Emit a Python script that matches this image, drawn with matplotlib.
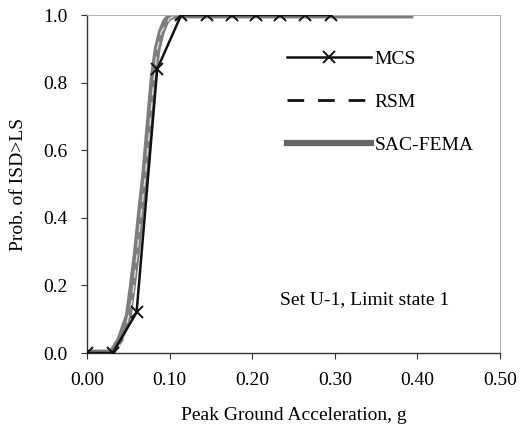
import matplotlib
matplotlib.use("Agg")
import matplotlib.pyplot as plt
from matplotlib.lines import Line2D

# data
mcs_x = [0.0, 0.031, 0.060, 0.085, 0.114, 0.145, 0.176, 0.205, 0.234, 0.264, 0.295]
mcs_y = [0.0, 0.0, 0.12, 0.84, 1.0, 1.0, 1.0, 1.0, 1.0, 1.0, 1.0]

rsm_x = [0.0, 0.035, 0.045, 0.055, 0.060, 0.065, 0.070, 0.075, 0.080, 0.085, 0.090, 0.100, 0.110, 0.300]
rsm_y = [0.0, 0.0, 0.05, 0.16, 0.28, 0.40, 0.51, 0.64, 0.78, 0.90, 0.95, 0.99, 1.0, 1.0]

sac_x = [0.0, 0.030, 0.040, 0.050, 0.055, 0.060, 0.065, 0.070, 0.075, 0.080, 0.085, 0.090, 0.095, 0.100, 0.110, 0.200, 0.395]
sac_y = [0.0, 0.0, 0.04, 0.11, 0.20, 0.30, 0.42, 0.53, 0.67, 0.81, 0.90, 0.95, 0.98, 0.995, 1.0, 1.0, 1.0]

xticks = [0.0, 0.1, 0.2, 0.3, 0.4, 0.5]
yticks = [0.0, 0.2, 0.4, 0.6, 0.8, 1.0]

plt.rcParams['font.family'] = ['Liberation Serif', 'DejaVu Serif']
fs = 14

fig = plt.figure(figsize=(5.29, 4.32), dpi=100)
ax = fig.add_axes([87 / 529, 1 - 353 / 432, 413 / 529, 338 / 432])

ax.plot(sac_x, sac_y, color="#7d7d7d", lw=5, solid_capstyle="butt", zorder=2)
ax.plot(rsm_x, rsm_y, color="#dcdcdc", lw=1.0, dashes=(6, 5), zorder=3)
ax.plot(mcs_x, mcs_y, color="#111111", lw=1.8, marker="x", ms=8, mew=1.4, zorder=4)

ax.set_xlim(0, 0.5)
ax.set_ylim(0, 1.0)
ax.set_xticks(xticks)
ax.set_yticks(yticks)
ax.set_xticklabels([f"{v:.2f}" for v in xticks])
ax.set_yticklabels([f"{v:.1f}" for v in yticks])
ax.tick_params(axis="both", labelsize=fs, length=4, width=0.8, color="#333333")
ax.tick_params(axis="x", pad=10)
ax.tick_params(axis="y", pad=10)

for s in ["top", "right"]:
    ax.spines[s].set_color("#b0b0b0")
    ax.spines[s].set_linewidth(0.7)
for s in ["left", "bottom"]:
    ax.spines[s].set_color("#333333")
    ax.spines[s].set_linewidth(1.0)

ax.set_xlabel("Peak Ground Acceleration, g", fontsize=fs)
ax.set_ylabel("Prob. of ISD>LS", fontsize=fs)
ax.xaxis.set_label_coords(0.50, -0.160)
ax.yaxis.set_label_coords(-0.145, 0.5)

handles = [
    Line2D([], [], color="#111111", lw=1.8, marker="x", ms=8, mew=1.4, markevery=[1]),
    Line2D([], [], color="#111111", lw=2.0, dashes=(6, 5)),
    Line2D([], [], color="#666666", lw=4.5),
]
ax.legend(handles, ["MCS", "RSM", "SAC-FEMA"], loc="upper left",
          bbox_to_anchor=(0.484, 0.895), frameon=False, fontsize=fs,
          handlelength=4.3, handletextpad=0.2, labelspacing=1.3,
          borderpad=0, borderaxespad=0)

ax.text(0.467, 0.157, "Set U-1, Limit state 1", transform=ax.transAxes,
        fontsize=fs, va="center", ha="left")

fig.savefig("out.png", dpi=100, facecolor="white")
